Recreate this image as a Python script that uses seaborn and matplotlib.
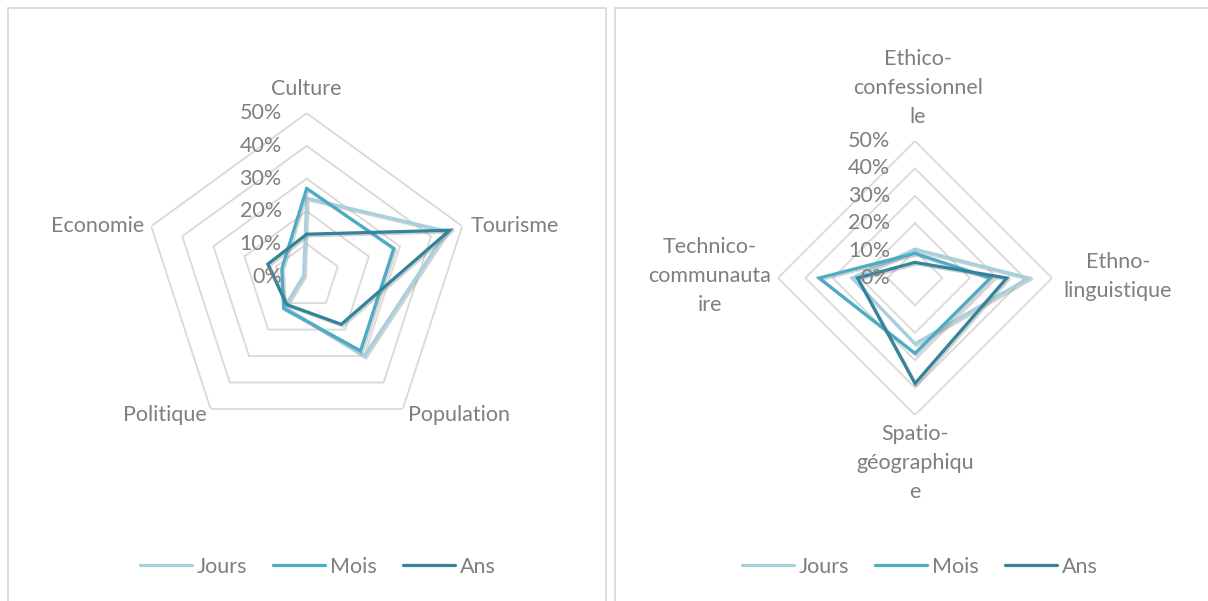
import numpy as np
import pandas as pd
import matplotlib
matplotlib.use("Agg")
import matplotlib.pyplot as plt
import matplotlib.patheffects as pe
from matplotlib.lines import Line2D
from matplotlib.patches import Rectangle
import seaborn as sns

# ---- data -------------------------------------------------------------
series_names = ["Jours", "Mois", "Ans"]

themes_categories = ["Culture", "Tourisme", "Population", "Politique", "Economie"]
themes_jours = [0.24, 0.45, 0.30, 0.115, 0.01]
themes_mois = [0.27, 0.28, 0.28, 0.12, 0.08]
themes_ans = [0.13, 0.46, 0.18, 0.105, 0.125]

identity_categories = ["Ethico-\nconfessionnel\nle", "Ethno-\nlinguistique",
                       "Spatio-\ngéographiqu\ne", "Technico-\ncommunauta\nire"]
identity_jours = [0.105, 0.415, 0.24, 0.23]
identity_mois = [0.09, 0.275, 0.275, 0.35]
identity_ans = [0.057, 0.335, 0.385, 0.21]

tick_levels = [0.0, 0.1, 0.2, 0.3, 0.4, 0.5]
tick_labels = ["0%", "10%", "20%", "30%", "40%", "50%"]

# ---- style ------------------------------------------------------------
W, H = 1208, 601
DPI = 100
sns.set_theme(style="white")
plt.rcParams["font.family"] = ["Lato", "DejaVu Sans"]
TEXT = "#7f7f7f"
GRID = "#d9d9d9"
FS = 15.5
palette = {"Jours": "#a7d0df", "Mois": "#4bacc6", "Ans": "#31849b"}
shadow = [pe.SimpleLineShadow(offset=(1.2, -1.2), shadow_color="#808080", alpha=0.35),
          pe.Normal()]

fig = plt.figure(figsize=(W / DPI, H / DPI), dpi=DPI)
fig.patch.set_facecolor("white")

# panel frames
fig.add_artist(Rectangle((8 / W, -0.02), (606 - 8) / W, (601 - 8) / H + 0.02,
                         transform=fig.transFigure, fill=False, ec=GRID, lw=1.3))
fig.add_artist(Rectangle((615 / W, -0.02), (1230 - 615) / W, (601 - 8) / H + 0.02,
                         transform=fig.transFigure, fill=False, ec=GRID, lw=1.3))


def radar(cx, cy, R, categories, values, label_offsets, legend_x):
    ax = fig.add_axes([(cx - R) / W, (H - cy - R) / H, 2 * R / W, 2 * R / H],
                      projection="polar")
    ax.set_theta_offset(np.pi / 2)
    ax.set_theta_direction(-1)
    ax.set_ylim(0, 0.5)
    ax.set_xticks([])
    ax.set_yticks([])
    ax.grid(False)
    ax.spines["polar"].set_visible(False)
    ax.patch.set_alpha(0)

    n = len(categories)
    theta = np.linspace(0, 2 * np.pi, n, endpoint=False)
    theta_closed = np.append(theta, 2 * np.pi)

    # polygonal rings
    for lev in tick_levels[1:]:
        ax.plot(theta_closed, [lev] * (n + 1), color=GRID, lw=1.3, zorder=1)

    # series
    rows = []
    for name, vals in zip(series_names, values):
        vals_closed = list(vals) + [vals[0]]
        for t, v in zip(theta_closed, vals_closed):
            rows.append({"theta": t, "value": v, "series": name})
    df = pd.DataFrame(rows)
    sns.lineplot(data=df, x="theta", y="value", hue="series", hue_order=series_names,
                 palette=palette, sort=False, estimator=None, lw=2.3,
                 legend=False, ax=ax, zorder=3)
    for line in ax.lines[-len(series_names):]:
        line.set_path_effects(shadow)
        line.set_solid_joinstyle("miter")
    ax.set_xlabel("")
    ax.set_ylabel("")

    # radial value labels
    for lev, lab in zip(tick_levels, tick_labels):
        ax.annotate(lab, xy=(0, lev), xytext=(-25, 0), textcoords="offset pixels",
                    ha="right", va="center", color=TEXT, fontsize=FS,
                    annotation_clip=False)

    # category labels
    for t, cat, (dx, dy, ha) in zip(theta, categories, label_offsets):
        ax.annotate(cat, xy=(t, 0.5), xytext=(dx, dy), textcoords="offset pixels",
                    ha=ha, va="center", multialignment="center", color=TEXT,
                    fontsize=FS, linespacing=1.55, annotation_clip=False)

    handles = [Line2D([], [], color=palette[s], lw=2.3) for s in series_names]
    fig.legend(handles, series_names, loc="center",
               bbox_to_anchor=(legend_x / W, 1 - 567 / H), ncol=3, frameon=False,
               fontsize=FS, labelcolor=TEXT, handlelength=2.4, handletextpad=0.25,
               columnspacing=1.2)
    return ax


radar(306.7, 276.7, 163.5, themes_categories,
      [themes_jours, themes_mois, themes_ans],
      [(0, 24, "center"), (8, 0, "left"), (5, -6, "left"),
       (-4, -6, "right"), (-7, 0, "right")],
      318)

radar(915, 278, 137, identity_categories,
      [identity_jours, identity_mois, identity_ans],
      [(3, 53, "center"), (66, 1.5, "center"), (0, -48, "center"), (-68, 2, "center")],
      920)

fig.savefig("out.png", dpi=DPI, facecolor="white")
